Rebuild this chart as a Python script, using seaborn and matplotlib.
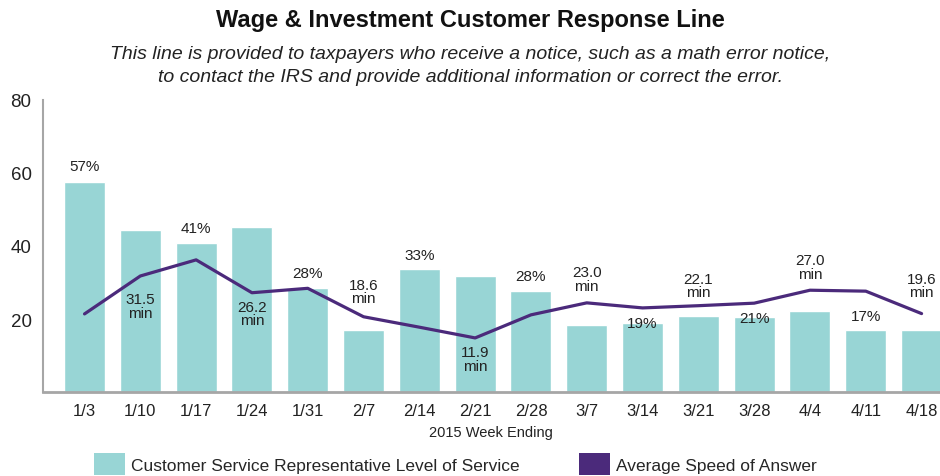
import numpy as np
import pandas as pd
import seaborn as sns
import matplotlib.pyplot as plt
from matplotlib.patches import Patch

# data
weeks = ['1/3', '1/10', '1/17', '1/24', '1/31', '2/7', '2/14', '2/21',
         '2/28', '3/7', '3/14', '3/21', '3/28', '4/4', '4/11', '4/18']
level_of_service = [57.5, 44.4, 40.9, 45.2, 28.5, 17.0, 33.7, 31.8,
                    27.7, 18.4, 19.0, 20.9, 20.6, 22.2, 17.1, 17.1]
speed_of_answer = [19.5, 31.5, 36.6, 26.2, 27.6, 18.6, 15.3, 11.9,
                   19.2, 23.0, 21.4, 22.1, 22.9, 27.0, 26.7, 19.6]

# which bars / points carry a label, and how far the label sits (px, + = up)
bar_labels = {'1/3': ('57%', 16), '1/17': ('41%', 15), '1/31': ('28%', 15),
              '2/14': ('33%', 14), '2/28': ('28%', 15), '3/14': ('19%', 0),
              '3/28': ('21%', -1), '4/11': ('17%', 14)}
line_labels = {'1/10': ('31.5', -30), '1/24': ('26.2', -21), '2/7': ('18.6', 25),
               '2/21': ('11.9', -21), '3/7': ('23.0', 24), '3/21': ('22.1', 20),
               '4/4': ('27.0', 23), '4/18': ('19.6', 28)}

teal = '#98d5d5'
purple = '#4b2a7b'
font = 'Liberation Sans'

sns.set_style('white')
plt.rcParams['font.family'] = [font, 'DejaVu Sans']

df = pd.DataFrame({'week': weeks, 'los': level_of_service, 'asa': speed_of_answer})
df['pos'] = np.arange(len(df))

fig = plt.figure(figsize=(9.4, 4.77), dpi=100)
ax = fig.add_axes([0.0454, 0.1755, 0.9546, 0.6135])

sns.barplot(data=df, x='week', y='los', color=teal, saturation=1, width=0.735, ax=ax)
ax.set_xlim(-0.75, 15.33)
ax.set_ylim(0, 80)
ax.set_yticks([20, 40, 60, 80])
ax.tick_params(axis='y', labelsize=13.5, length=0, pad=8, labelcolor='#222222')
ax.tick_params(axis='x', labelsize=12, length=0, pad=8, labelcolor='#222222')
ax.set_ylabel('')
ax.set_xlabel('2015 Week Ending', fontsize=10.5, labelpad=5, color='#222222')
sns.despine(ax=ax)
ax.spines['left'].set_color('#a6a6a6')
ax.spines['left'].set_linewidth(1.5)
ax.spines['bottom'].set_color('#a6a6a6')
ax.spines['bottom'].set_linewidth(2)

for _, r in df.iterrows():
    if r['week'] in bar_labels:
        txt, dy = bar_labels[r['week']]
        ax.annotate(txt, xy=(r['pos'], r['los']), xytext=(0, dy * 0.72),
                    textcoords='offset points', ha='center', va='center',
                    fontsize=11, color='#222222')

# minutes sit on their own (hidden) scale
ax2 = ax.twinx()
sns.lineplot(data=df, x='pos', y='asa', color=purple, linewidth=2.3, ax=ax2)
ax2.set_ylim(-5.3, 87.3)
ax2.set_xlim(-0.75, 15.33)
ax2.axis('off')

for _, r in df.iterrows():
    if r['week'] in line_labels:
        txt, dy = line_labels[r['week']]
        ax2.annotate(txt + '\nmin', xy=(r['pos'], r['asa']), xytext=(0, dy * 0.72),
                     textcoords='offset points', ha='center', va='center',
                     fontsize=11, linespacing=0.95, color='#222222')

fig.text(0.5, 0.958, 'Wage & Investment Customer Response Line', ha='center', va='center',
         fontsize=17, fontweight='bold', color='#111111')
fig.text(0.5, 0.862, 'This line is provided to taxpayers who receive a notice, such as a math error notice,\n'
         'to contact the IRS and provide additional information or correct the error.',
         ha='center', va='center', fontsize=14, style='italic', linespacing=1.5, color='#222222')

handles = [Patch(facecolor=teal, edgecolor='none'), Patch(facecolor=purple, edgecolor='none')]
fig.legend(handles, ['Customer Service Representative Level of Service', 'Average Speed of Answer'],
           loc='center', bbox_to_anchor=(0.4846, 0.025), ncol=2, frameon=False,
           fontsize=12.5, handlelength=1.8, handleheight=1.6, handletextpad=0.35,
           columnspacing=3.4)

fig.savefig('out.png', dpi=100)
